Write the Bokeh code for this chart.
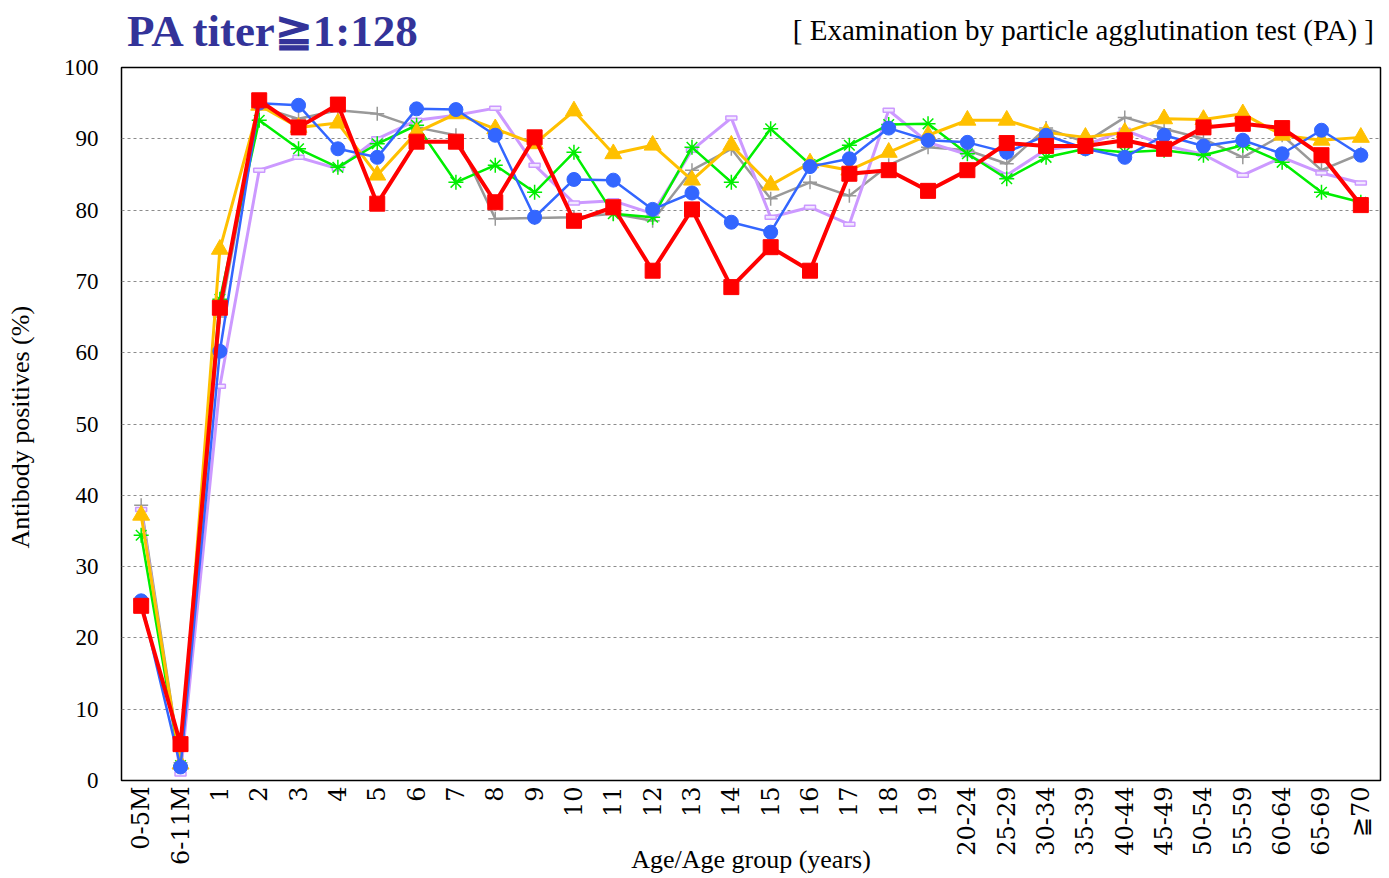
import math
from bokeh.plotting import figure
from bokeh.models import FactorRange, Range1d, FixedTicker, Div
from bokeh.layouts import column
from bokeh.embed import file_html
from bokeh.resources import INLINE

categories = ["0-5M", "6-11M"] + [str(i) for i in range(1, 20)] + [
    "20-24", "25-29", "30-34", "35-39", "40-44", "45-49",
    "50-54", "55-59", "60-64", "65-69", "≧70"]

gray_vals = [38.6, 2.5, 65.0, 94.5, 92.8, 94.0, 93.5, 91.6, 90.5, 78.8, 78.9, 79.0,
             79.5, 78.5, 85.6, 88.6, 81.6, 83.9, 82.0, 86.3, 88.8, 88.4, 86.5, 91.5,
             89.5, 93.0, 91.4, 90.0, 87.4, 90.5, 85.6, 87.9]
purple_vals = [38.0, 0.9, 55.3, 85.6, 87.4, 85.8, 90.0, 92.6, 93.3, 94.3, 86.3, 81.0,
               81.3, 79.5, 88.4, 92.9, 79.0, 80.4, 78.0, 94.0, 89.5, 87.8, 84.9, 88.5,
               89.1, 91.2, 89.1, 87.8, 84.9, 87.4, 85.2, 83.8]
green_vals = [34.4, 2.1, 67.5, 92.6, 88.6, 86.0, 89.3, 91.9, 83.9, 86.3, 82.5, 88.1,
              79.5, 79.0, 88.8, 83.9, 91.4, 86.4, 89.1, 92.0, 92.1, 87.9, 84.4, 87.4,
              88.6, 88.1, 88.4, 87.7, 89.1, 86.7, 82.5, 81.1]
yellow_vals = [37.2, 2.3, 74.5, 94.7, 91.6, 92.2, 84.9, 90.9, 93.5, 91.4, 89.3, 93.9,
               87.9, 89.1, 84.2, 89.1, 83.5, 86.6, 85.6, 88.1, 90.5, 92.6, 92.6, 90.9,
               90.2, 90.9, 92.8, 92.7, 93.5, 90.5, 89.8, 90.2]
blue_vals = [25.2, 1.9, 60.2, 95.0, 94.7, 88.6, 87.4, 94.2, 94.1, 90.5, 79.0, 84.3,
             84.2, 80.1, 82.4, 78.3, 76.9, 86.1, 87.2, 91.5, 89.8, 89.5, 88.1, 90.5,
             88.6, 87.4, 90.5, 89.0, 89.8, 87.9, 91.2, 87.7]
red_vals = [24.5, 5.1, 66.3, 95.4, 91.6, 94.8, 80.9, 89.6, 89.6, 81.1, 90.2, 78.5,
            80.4, 71.5, 80.1, 69.2, 74.8, 71.5, 85.1, 85.6, 82.7, 85.6, 89.4, 89.0,
            89.0, 89.8, 88.6, 91.6, 92.1, 91.5, 87.7, 80.7]

y_ticks = list(range(0, 101, 10))

title_text = "PA titer≧1:128"
subtitle_text = "[ Examination by particle agglutination test (PA) ]"
x_title = "Age/Age group (years)"
y_title = "Antibody positives  (%)"

FONT = "Liberation Serif"
W = 1386

header = Div(
    text=(
        '<div style="position:relative;width:%dpx;height:52px;">'
        '<span style="position:absolute;left:127px;top:9px;font-family:\'Liberation Serif\';'
        'font-size:45px;line-height:1;font-weight:bold;color:#333399;white-space:nowrap;">%s</span>'
        '<span style="position:absolute;right:12px;top:16px;font-family:\'Liberation Serif\';'
        'font-size:29px;line-height:1;color:black;white-space:nowrap;">%s</span>'
        '</div>' % (W, title_text, subtitle_text)
    ),
    width=W, height=52, margin=0,
)

p = figure(x_range=FactorRange(*categories), y_range=Range1d(0, 100),
           width=W, height=825, output_backend="svg", toolbar_location=None,
           min_border_left=121, min_border_right=6, min_border_top=15,
           min_border_bottom=97, margin=0)

p.outline_line_color = "black"
p.outline_line_width = 1.5
p.outline_line_alpha = 1.0

p.xgrid.visible = False
p.ygrid.ticker = FixedTicker(ticks=y_ticks)
p.ygrid.grid_line_color = "#8c8c8c"
p.ygrid.grid_line_dash = "3 3"
p.ygrid.grid_line_width = 1

p.yaxis.ticker = FixedTicker(ticks=y_ticks)
for ax in (p.xaxis, p.yaxis):
    ax.axis_line_color = None
    ax.major_tick_line_color = None
    ax.minor_tick_line_color = None
    ax.major_tick_out = 0
    ax.major_tick_in = 0
    ax.major_label_text_color = "black"
    ax.axis_label_text_color = "black"
    ax.axis_label_text_font = FONT
    ax.axis_label_text_font_size = "26px"
    ax.axis_label_text_font_style = "normal"

p.yaxis.major_label_text_font = FONT
p.yaxis.major_label_text_font_size = "23px"
p.yaxis.major_label_standoff = 23
p.yaxis.axis_label = y_title
p.yaxis.axis_label_standoff = 26

p.xaxis.major_label_text_font = "DejaVu Serif"
p.xaxis.major_label_text_font_size = "24px"
p.xaxis.major_label_orientation = math.pi / 2
p.xaxis.major_label_standoff = 6
p.xaxis.axis_label = x_title
p.xaxis.axis_label_standoff = -23

# series: gray, purple, green, yellow, blue, red (red on top)
p.line(categories, gray_vals, line_color="#999999", line_width=2.5)
p.scatter(categories, gray_vals, marker="cross", size=14, line_color="#999999", line_width=1.5)

p.line(categories, purple_vals, line_color="#cc99ff", line_width=3)
p.rect(x=categories, y=purple_vals, width=11, height=4, width_units="screen",
       height_units="screen", fill_color="#f2e8ff", line_color="#cc99ff", line_width=1.5)

p.line(categories, green_vals, line_color="#00ee00", line_width=2.5)
p.scatter(categories, green_vals, marker="asterisk", size=15, line_color="#00ee00", line_width=1.5)

p.line(categories, yellow_vals, line_color="#ffc000", line_width=3)
p.scatter(categories, yellow_vals, marker="triangle", size=17, fill_color="#ffc000",
          line_color="#ffc000")

p.line(categories, blue_vals, line_color="#3366ff", line_width=2.5)
p.scatter(categories, blue_vals, marker="circle", size=14, fill_color="#3366ff",
          line_color="#3366ff")

p.line(categories, red_vals, line_color="#ff0000", line_width=4)
p.scatter(categories, red_vals, marker="square", size=15, fill_color="#ff0000",
          line_color="#ff0000")

layout = column(header, p, spacing=0)
open("out.html", "w").write(file_html(layout, INLINE))
